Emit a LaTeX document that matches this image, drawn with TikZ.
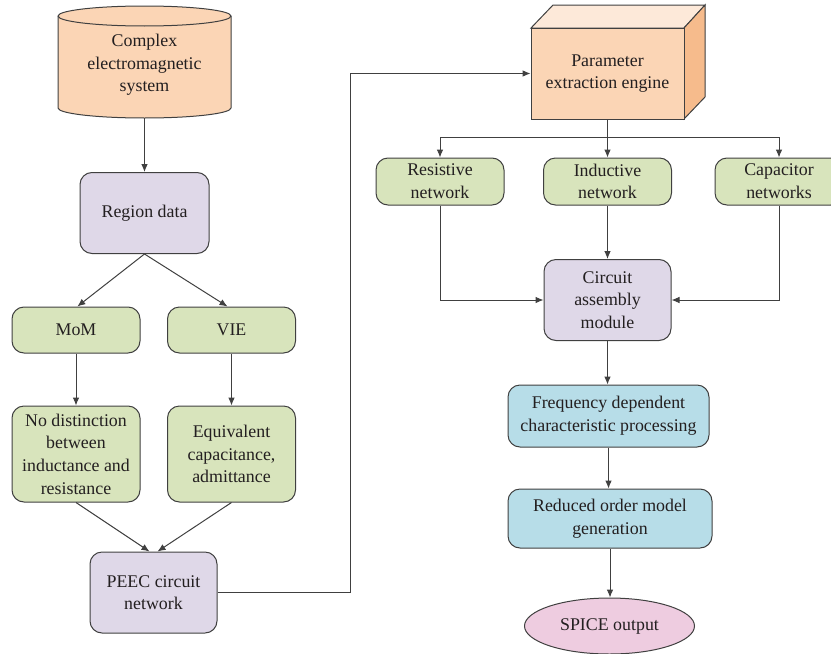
\documentclass[tikz,border=0pt]{standalone}
\usepackage{fontspec}
\IfFontExistsTF{LiberationSerif-Regular.ttf}{%
  \newfontfamily\boxserif{LiberationSerif-Regular.ttf}}{%
  \newcommand{\boxserif}{\rmfamily}}
\usetikzlibrary{arrows.meta,shapes.geometric}

\definecolor{linegray}{RGB}{64,64,64}
\definecolor{txtgray}{RGB}{35,31,32}
\definecolor{peach}{RGB}{251,213,181}
\definecolor{peachtop}{RGB}{253,233,217}
\definecolor{peachside}{RGB}{246,187,140}
\definecolor{leafgreen}{RGB}{216,228,188}
\definecolor{lilac}{RGB}{223,216,232}
\definecolor{skyblue}{RGB}{183,221,232}
\definecolor{rosepink}{RGB}{238,204,224}

\newcommand{\boxfont}{\boxserif\fontsize{13.4}{17}\selectfont}

\tikzset{every picture/.style={line width=0.75pt}}

\begin{document}
\begin{tikzpicture}[x=0.75pt,y=0.75pt,yscale=-1,xscale=1,
  box/.style={draw=linegray, rounded corners=9pt, inner sep=0pt, align=center, font=\boxfont, text=txtgray},
  greenbox/.style={box, fill=leafgreen, minimum width=96pt},
  lilacbox/.style={box, fill=lilac, minimum width=95.25pt, minimum height=60.75pt},
  bluebox/.style={box, fill=skyblue},
  arr/.style={draw=linegray, -{Latex[length=6pt,width=5pt]}}]
\useasboundingbox (0,0) rectangle (831,653);

%Can [left column top]
\draw [draw=linegray, fill=peach] (58,16) -- (58,108) arc (180:0:86.5 and 10) -- (231,16) arc (0:-180:86.5 and 10) -- cycle ;
\draw [draw=linegray] (58,16) arc (180:0:86.5 and 10) ;
% Text Node
\node [inner sep=0pt, align=center, font=\boxfont, text=txtgray] (emsys) at (144.5,65) {Complex\\electromagnetic\\system};
\coordinate (canbase) at (144.5,118);

%Cube [right column top]
\draw [draw=linegray, fill=peachtop] (531,28) -- (553,5) -- (705,5) -- (684,28) -- cycle ;
\draw [draw=linegray, fill=peachside] (684,28) -- (705,5) -- (705,97) -- (684,119) -- cycle ;
\node [draw=linegray, fill=peach, inner sep=0pt, minimum width=114.75pt, minimum height=68.25pt, align=center, font=\boxfont, text=txtgray] (param) at (607.5,73.5) {Parameter\\extraction engine};

%Rounded Rects, left column
\node [lilacbox, minimum width=96.75pt] (region) at (144.5,213) {Region data};
\node [greenbox, minimum height=34.5pt] (mom) at (76,330) {MoM};
\node [greenbox, minimum height=34.5pt] (vie) at (231.5,330) {VIE};
\node [greenbox, minimum height=72pt] (nodist) at (76,454) {No distinction\\between\\inductance and\\resistance};
\node [greenbox, minimum height=72pt] (equiv) at (231.5,454) {Equivalent\\capacitance,\\admittance};
\node [lilacbox] (peec) at (153.5,592.5) {PEEC circuit\\network};

%Rounded Rects, right column
\node [greenbox, minimum height=35.25pt] (resist) at (440,181.5) {Resistive\\network};
\node [greenbox, minimum height=35.25pt] (induct) at (607.5,181.5) {Inductive\\network};
\node [greenbox, minimum height=35.25pt] (capac) at (779,181.5) {Capacitor\\networks};
\node [lilacbox] (circuit) at (607.5,300) {Circuit\\assembly\\module};
\node [bluebox, minimum width=150.75pt, minimum height=46.5pt] (freq) at (608.5,416) {Frequency dependent\\characteristic processing};
\node [bluebox, minimum width=153pt, minimum height=44.25pt] (reduced) at (610,518.5) {Reduced order model\\generation};
%Ellipse
\node [ellipse, draw=linegray, fill=rosepink, inner sep=0pt, minimum width=127.5pt, minimum height=42pt, font=\boxfont, text=txtgray] (spice) at (609.5,626) {SPICE output};

%Straight Lines
\coordinate (fork) at (0,137);
\coordinate (bend) at (350,0);
\draw [arr] (canbase) -- (region.north);
\draw [arr] (region.south) -- ([xshift=1]mom.north);
\draw [arr] (region.south) -- ([xshift=-3]vie.north);
\draw [arr] (mom) -- (nodist);
\draw [arr] (vie) -- (equiv);
\draw [arr] (nodist.south) -- ([xshift=-3]peec.north);
\draw [arr] (equiv.south) -- ([xshift=3]peec.north);
\draw [arr] (peec.east) -| (bend |- param.west) -- (param.west);
\draw [arr] (param.south) -- (induct.north);
\draw [arr] (induct.north |- fork) -| (resist.north);
\draw [arr] (induct.north |- fork) -| (capac.north);
\draw [arr] (induct) -- (circuit);
\draw [arr] (resist.south) |- (circuit.west);
\draw [arr] (capac.south) |- (circuit.east);
\draw [arr] (circuit.south) -- (circuit.south |- freq.north);
\draw [arr] (freq.south) -- (freq.south |- reduced.north);
\draw [arr] (reduced.south) -- (reduced.south |- spice.north);

\end{tikzpicture}
\end{document}
